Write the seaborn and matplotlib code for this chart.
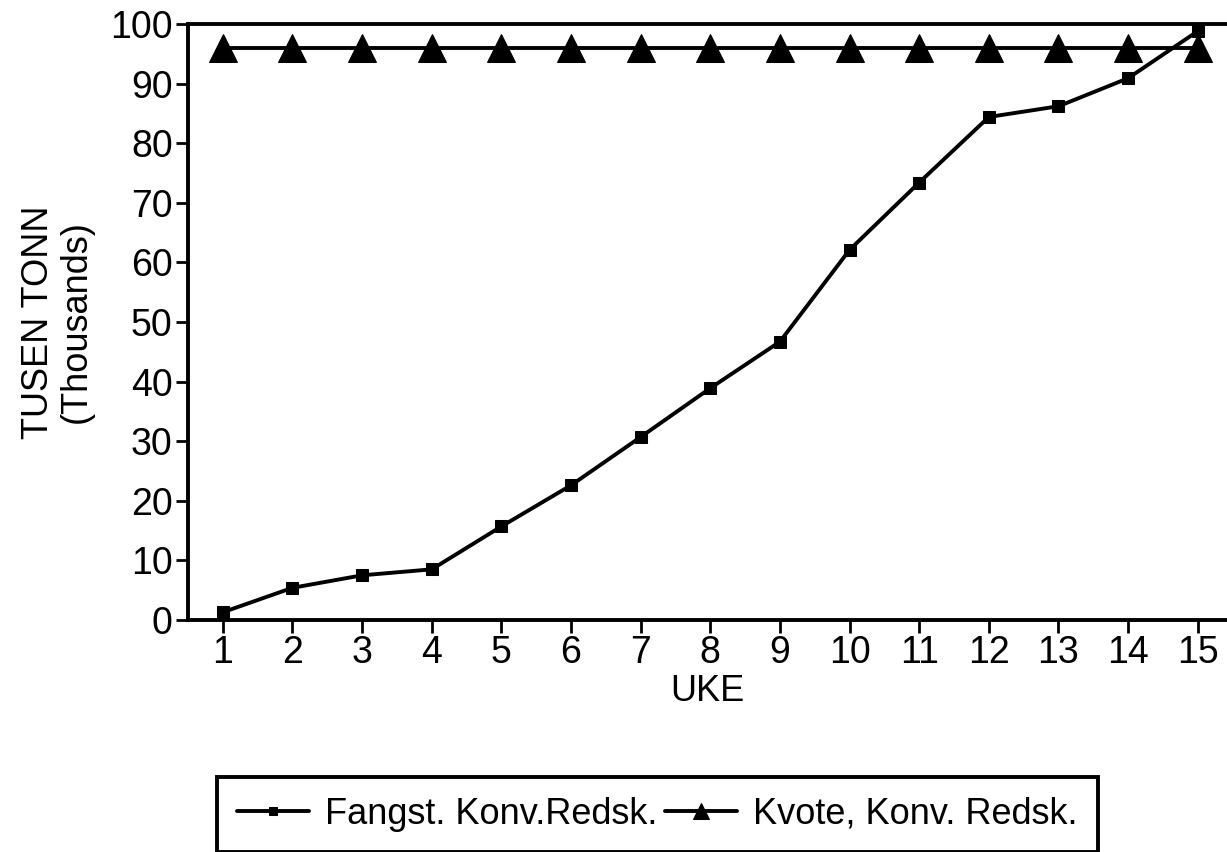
import pandas as pd
import seaborn as sns
import matplotlib.pyplot as plt

# Weekly catch vs quota (thousand tonnes)
uke = list(range(1, 16))
fangst = [1.3, 5.4, 7.5, 8.5, 15.7, 22.6, 30.7, 38.9, 46.7, 62.1, 73.4, 84.4, 86.2, 90.9, 98.8]
kvote = [96] * 15
series_names = ['Fangst. Konv.Redsk.', 'Kvote, Konv. Redsk.']

sns.set_style('ticks')
plt.rcParams['font.family'] = ['Liberation Sans', 'DejaVu Sans']
plt.rcParams['text.color'] = 'black'
plt.rcParams['axes.labelcolor'] = 'black'
plt.rcParams['xtick.color'] = 'black'
plt.rcParams['ytick.color'] = 'black'

fig = plt.figure(figsize=(12.27, 8.52), dpi=100)
ax = fig.add_axes([188 / 1227, 1 - 620 / 852, 1 - 188 / 1227, (620 - 24) / 852])

df_f = pd.DataFrame({'uke': uke, 'val': fangst})
df_k = pd.DataFrame({'uke': uke, 'val': kvote})

sns.lineplot(data=df_f, x='uke', y='val', ax=ax, color='black', linewidth=2.8,
             marker='s', markersize=9, markeredgecolor='black', label=series_names[0])
sns.lineplot(data=df_k, x='uke', y='val', ax=ax, color='black', linewidth=2.8,
             marker='^', markersize=20, markeredgecolor='black', label=series_names[1])

ax.set_xlim(0.5, 15.42)
ax.set_ylim(0, 100)
ax.set_xticks(uke)
ax.set_yticks(range(0, 101, 10))
ax.tick_params(axis='both', labelsize=27, width=2, length=9, pad=2)

for side in ['left', 'bottom', 'top']:
    ax.spines[side].set_linewidth(2.8)
    ax.spines[side].set_color('black')
ax.spines['right'].set_visible(False)

ax.set_xlabel('UKE', fontsize=26, labelpad=2)
ax.set_ylabel('TUSEN TONN\n(Thousands)', fontsize=26, labelpad=12, linespacing=1.1)

ax.get_legend().remove()
handles, labels = ax.get_legend_handles_labels()
leg = fig.legend(handles, labels, ncol=2, loc='upper left',
                 bbox_to_anchor=(217 / 1227, 1 - 777 / 852), borderaxespad=0,
                 fontsize=26, frameon=True, fancybox=False, edgecolor='black',
                 framealpha=1, handlelength=2.0, handletextpad=0.45,
                 columnspacing=0.2, borderpad=0.55, markerscale=0.6)
leg.get_frame().set_linewidth(2.8)

fig.savefig('out.png', dpi=100)
